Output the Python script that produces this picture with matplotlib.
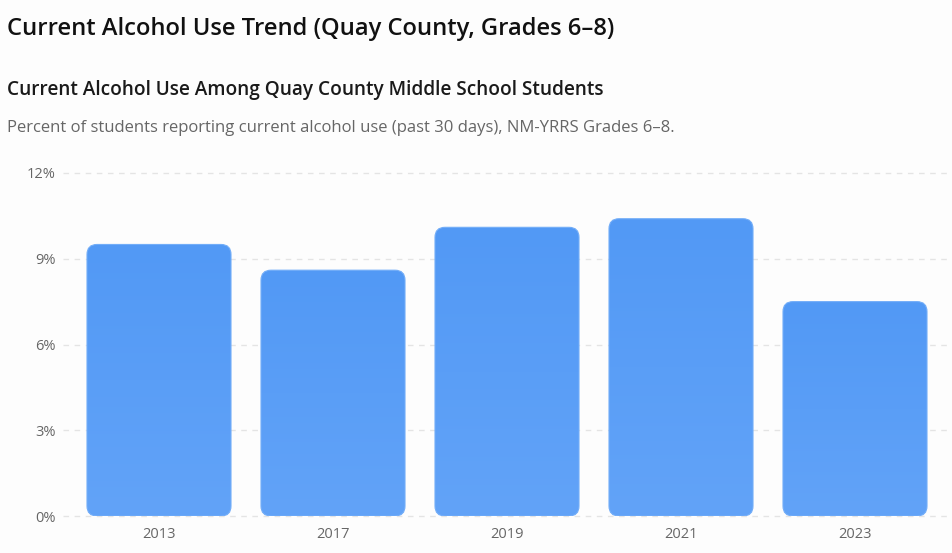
import numpy as np
import matplotlib
matplotlib.use("Agg")
import matplotlib.pyplot as plt
from matplotlib.patches import FancyBboxPatch
from matplotlib.colors import LinearSegmentedColormap
from matplotlib.ticker import FuncFormatter

years = ["2013", "2017", "2019", "2021", "2023"]
alcohol_pct = [9.5, 8.6, 10.1, 10.4, 7.5]
y_ticks = [0, 3, 6, 9, 12]

plt.rcParams["font.family"] = ["Open Sans", "DejaVu Sans"]

W, H = 952, 553
fig = plt.figure(figsize=(W / 100, H / 100), dpi=100, facecolor="#fdfdfd")

# plot area in pixels: left 72, right 942, top 173, bottom 516
ax = fig.add_axes([72 / W, 37 / H, 870 / W, 343 / H])
ax.set_facecolor("#fdfdfd")
ax.set_xlim(-0.5, len(years) - 0.5)
ax.set_ylim(0, 12)

bar_w = 144 / 174
px_x = 870 / len(years)      # pixels per x unit
px_y = 343 / 12              # pixels per y unit
radius = 10 / px_x
grad = LinearSegmentedColormap.from_list("g", ["#62a3f8", "#5299f5"])
gimg = np.linspace(0, 1, 100).reshape(-1, 1)

for i, v in enumerate(alcohol_pct):
    x0 = i - bar_w / 2
    patch = FancyBboxPatch((x0, 0), bar_w, v,
                           boxstyle=f"round,pad=0,rounding_size={radius}",
                           mutation_aspect=px_x / px_y,
                           facecolor="none", edgecolor="#72adf8", lw=0.8, zorder=3)
    ax.add_patch(patch)
    im = ax.imshow(gimg, cmap=grad, aspect="auto", origin="lower",
                   extent=(x0, x0 + bar_w, 0, v), zorder=2)
    im.set_clip_path(patch)

ax.set_xlim(-0.5, len(years) - 0.5)
ax.set_ylim(0, 12)

ax.set_yticks(y_ticks)
ax.yaxis.set_major_formatter(FuncFormatter(lambda v, p: f"{v:.0f}%"))
ax.set_xticks(range(len(years)))
ax.set_xticklabels(years)
ax.tick_params(axis="both", length=0, labelsize=10.5, labelcolor="#666666")
ax.tick_params(axis="y", pad=12)
ax.tick_params(axis="x", pad=8)

for s in ax.spines.values():
    s.set_visible(False)

for t in y_ticks:
    ax.plot([-0.55, 4.6], [t, t], color="#e4e4e4", lw=1, ls=(0, (4, 4)),
            zorder=1, clip_on=False)

fig.text(7 / W, 1 - 29 / H, "Current Alcohol Use Trend (Quay County, Grades 6–8)",
         fontsize=17.1, fontweight="semibold", color="#111111", va="center", ha="left")
fig.text(7 / W, 1 - 90 / H, "Current Alcohol Use Among Quay County Middle School Students",
         fontsize=13.7, fontweight="semibold", color="#1a1a1a", va="center", ha="left")
fig.text(7 / W, 1 - 128 / H,
         "Percent of students reporting current alcohol use (past 30 days), NM-YRRS Grades 6–8.",
         fontsize=12, color="#666666", va="center", ha="left")

fig.savefig("out.png", dpi=100, facecolor=fig.get_facecolor())
